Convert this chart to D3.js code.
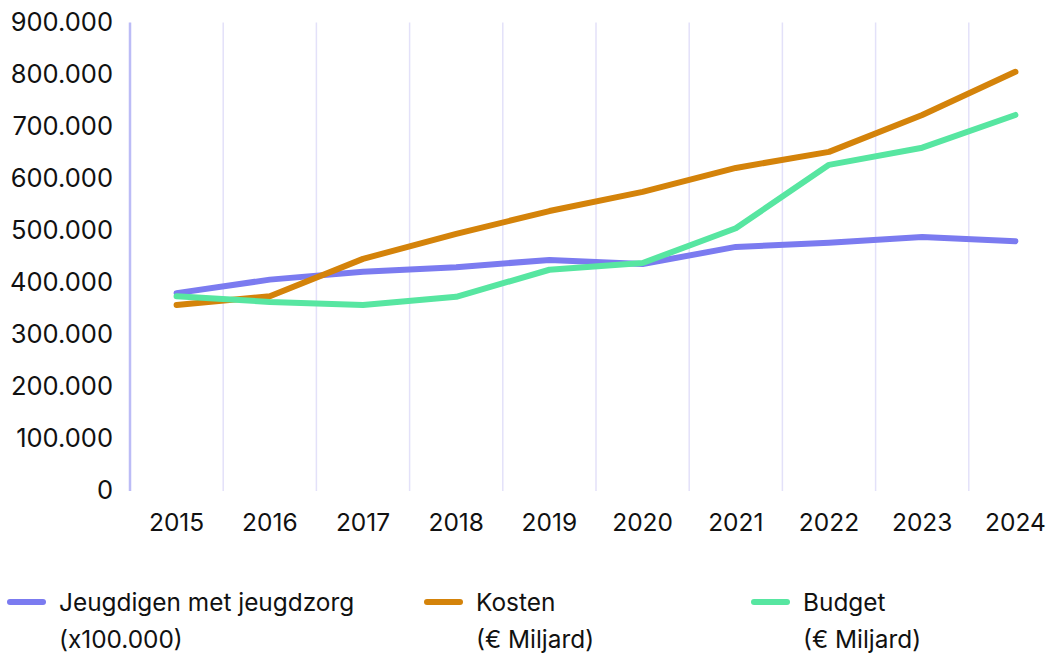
<!DOCTYPE html>
<html>
<head>
<meta charset="utf-8">
<script src="https://cdn.jsdelivr.net/npm/d3@7"></script>
<style>
  body { margin: 0; background: #fff; }
  svg text { font-family: Inter, "Liberation Sans", Arial, sans-serif; fill: #111; }
</style>
</head>
<body>
<svg id="canvas"></svg>
<script>
let years = [2015, 2016, 2017, 2018, 2019, 2020, 2021, 2022, 2023, 2024]
let jeugdigen = [379000, 405000, 420000, 429000, 443000, 435000, 468000, 476000, 487000, 479000]
let kosten = [356000, 373000, 445000, 493000, 537000, 574000, 620000, 651000, 722000, 805000]
let budget = [373000, 362000, 356000, 372000, 424000, 437000, 504000, 626000, 659000, 722000]
let yTicks = [0, 100000, 200000, 300000, 400000, 500000, 600000, 700000, 800000, 900000]

let seriesNames = ['Jeugdigen met jeugdzorg', 'Kosten', 'Budget']
let seriesSub = ['(x100.000)', '(€ Miljard)', '(€ Miljard)']
let seriesColors = ['#7b7bf0', '#d4830a', '#57e6a1']

let width = 1054
let height = 656

let canvas = d3.select('#canvas')
canvas.attr('width', width)
      .attr('height', height)

let nl = d3.formatLocale({decimal: ',', thousands: '.', grouping: [3], currency: ['€', '']})
let fmt = nl.format(',d')

let xScale = d3.scaleBand()
               .domain(years)
               .range([130, 130 + 10 * 93.2])

let yScale = d3.scaleLinear()
               .domain([0, 900000])
               .range([490, 22.5])

// vertical gridlines between the years
canvas.append('g')
      .selectAll('line')
      .data(years.slice(1))
      .enter()
      .append('line')
      .attr('x1', (d) => xScale(d))
      .attr('x2', (d) => xScale(d))
      .attr('y1', yScale(900000))
      .attr('y2', yScale(0) + 1)
      .attr('stroke', '#e3e1f9')
      .attr('stroke-width', 1.5)

canvas.append('line')
      .attr('x1', 130)
      .attr('x2', 130)
      .attr('y1', yScale(900000))
      .attr('y2', yScale(0) + 1)
      .attr('stroke', '#bcbcf6')
      .attr('stroke-width', 2.5)

let yAxis = d3.axisLeft(yScale)
              .tickValues(yTicks)
              .tickFormat(fmt)
              .tickSize(0)
              .tickPadding(17)

canvas.append('g')
      .attr('id', 'y-axis')
      .attr('transform', 'translate(130,0)')
      .call(yAxis)
      .call((g) => g.select('.domain').remove())
      .selectAll('text')
      .attr('font-size', 25.5)
      .attr('fill', '#111')

let xAxis = d3.axisBottom(xScale)
              .tickSize(0)
              .tickPadding(24)

canvas.append('g')
      .attr('id', 'x-axis')
      .attr('transform', 'translate(0,' + yScale(0) + ')')
      .call(xAxis)
      .call((g) => g.select('.domain').remove())
      .selectAll('text')
      .attr('font-size', 24.5)
      .attr('fill', '#111')

let line = d3.line()
             .x((d, i) => xScale(years[i]) + xScale.bandwidth() / 2)
             .y((d) => yScale(d))

let allSeries = [jeugdigen, kosten, budget]

canvas.append('g')
      .selectAll('path')
      .data(allSeries)
      .enter()
      .append('path')
      .attr('d', (d) => line(d))
      .attr('fill', 'none')
      .attr('stroke', (d, i) => seriesColors[i])
      .attr('stroke-width', 6)
      .attr('stroke-linecap', 'round')
      .attr('stroke-linejoin', 'round')

// legend
let legendX = [7, 424, 751]
let legend = canvas.append('g')
                   .selectAll('g')
                   .data(seriesNames)
                   .enter()
                   .append('g')
                   .attr('transform', (d, i) => 'translate(' + legendX[i] + ',602)')

legend.append('line')
      .attr('x1', 3)
      .attr('x2', 36)
      .attr('stroke', (d, i) => seriesColors[i])
      .attr('stroke-width', 6)
      .attr('stroke-linecap', 'round')

legend.append('text')
      .attr('x', 52)
      .attr('y', 8.5)
      .attr('font-size', 24.4)
      .text((d) => d)

legend.append('text')
      .attr('x', 52)
      .attr('y', 45.5)
      .attr('font-size', 24.4)
      .text((d, i) => seriesSub[i])
</script>
</body>
</html>
